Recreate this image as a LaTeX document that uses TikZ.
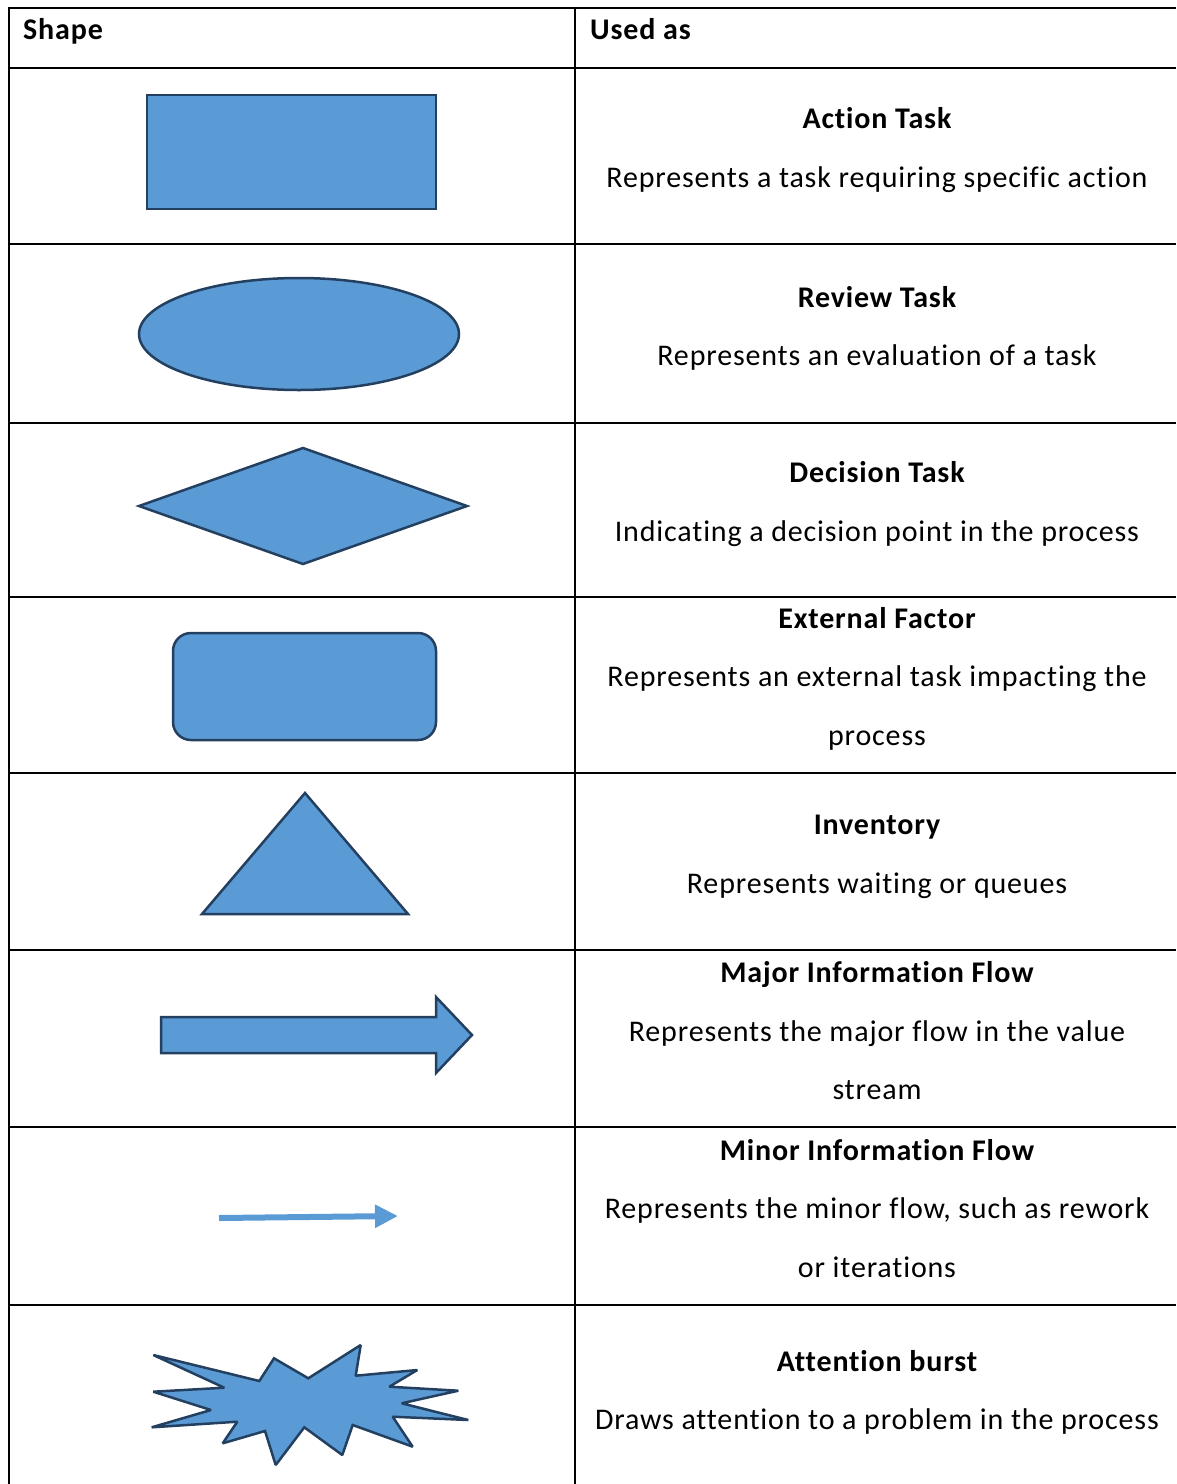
\documentclass[tikz,border=0pt]{standalone}
\usepackage{fontspec}
\setmainfont{Carlito}[LetterSpace=2.8,Ligatures=NoCommon]
\usetikzlibrary{arrows.meta}
\definecolor{shapefill}{HTML}{5B9BD5}
\definecolor{shapeline}{RGB}{36,64,96}
\begin{document}
\begin{tikzpicture}[x=1pt,y=-1pt,
  grid/.style={line width=2pt,black},
  sym/.style={fill=shapefill,draw=shapeline,line width=2.5pt,line join=miter},
  txt/.style={font=\fontsize{30}{36}\selectfont,inner sep=0pt,anchor=base},
  ttl/.style={txt,font=\fontsize{30}{36}\selectfont\bfseries},
  hdr/.style={ttl,anchor=base west}]
\useasboundingbox (0,0) rectangle (1176,1484);
% table grid
\foreach \yy in {8,68,244,423,597,773,950,1127,1305}
  \draw[grid] (8,\yy) -- (1176,\yy);
\draw[grid] (9,7) -- (9,1484);
\draw[grid] (575,7) -- (575,1484);
% header
\node[hdr] (hshape) at (23,39) {Shape};
\node[hdr] (hused) at (590,39) {Used as};
% action task
\draw[sym] (147,95) rectangle (436,209);
\node[ttl] (t1) at (877,128) {Action Task};
\node[txt] (d1) at (877,187) {Represents a task requiring specific action};
% review task
\draw[sym] (299,334) ellipse [x radius=160,y radius=56];
\node[ttl] (t2) at (877,307) {Review Task};
\node[txt] (d2) at (877,365) {Represents an evaluation of a task};
% decision task
\draw[sym] (139,506) -- (303,448) -- (467,506) -- (303,564) -- cycle;
\node[ttl] (t3) at (877,482) {Decision Task};
\node[txt] (d3) at (877,541) {Indicating a decision point in the process};
% external factor
\draw[sym,rounded corners=18pt] (173,633) rectangle (436,740);
\node[ttl] (t4) at (877,628) {External Factor};
\node[txt] (d4a) at (877,686) {Represents an external task impacting the};
\node[txt] (d4b) at (877,745) {process};
% inventory
\draw[sym] (305,793) -- (408,914) -- (202,914) -- cycle;
\node[ttl] (t5) at (877,834) {Inventory};
\node[txt] (d5) at (877,893) {Represents waiting or queues};
% major information flow
\draw[sym] (161,1017) -- (436,1017) -- (436,997) -- (472,1035) -- (436,1073)
  -- (436,1053) -- (161,1053) -- cycle;
\node[ttl] (t6) at (877,982) {Major Information Flow};
\node[txt] (d6a) at (877,1041) {Represents the major flow in the value};
\node[txt] (d6b) at (877,1099) {stream};
% minor information flow
\coordinate (ma) at (219,1218);
\coordinate (mb) at (398,1216);
\draw[shapefill,line width=6pt,-{Triangle[length=23pt,width=22pt]}] (ma) -- (mb);
\node[ttl] (t7) at (877,1160) {Minor Information Flow};
\node[txt] (d7a) at (877,1218) {Represents the minor flow, such as rework};
\node[txt] (d7b) at (877,1277) {or iterations};
% attention burst
\draw[sym,miter limit=1.5] (153.3,1355) -- (259.3,1381) -- (274,1358.3) -- (308.3,1378.3)
  -- (360.7,1345) -- (355.7,1375.7) -- (417.3,1370) -- (389.3,1386.7)
  -- (458.3,1390.7) -- (401.7,1403.3) -- (468.3,1420) -- (392.7,1416.7)
  -- (412.7,1446.7) -- (352.7,1425) -- (342.3,1455) -- (304.3,1427.3)
  -- (275.7,1465) -- (265,1431) -- (222.7,1443.3) -- (237.3,1421.7)
  -- (151.7,1427.3) -- (211,1410) -- (153.3,1391.7) -- (224.3,1387.7) -- cycle;
\node[ttl] (t8) at (877,1371) {Attention burst};
\node[txt] (d8) at (877,1429) {Draws attention to a problem in the process};
\end{tikzpicture}
\end{document}
